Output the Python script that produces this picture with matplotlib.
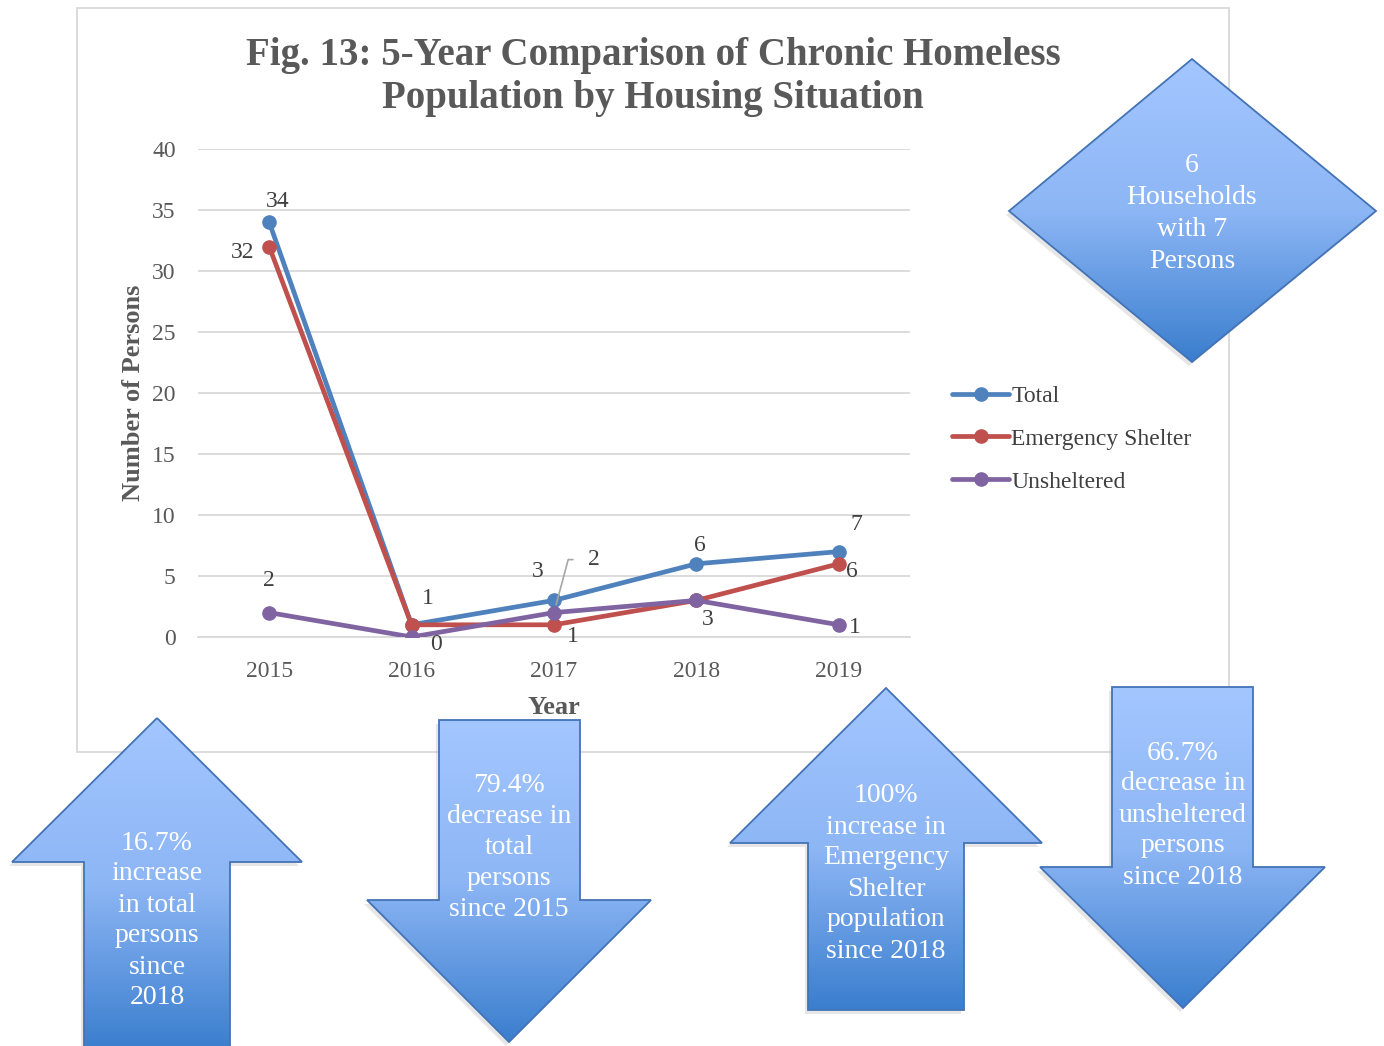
import numpy as np
import matplotlib
matplotlib.use("Agg")
import matplotlib.pyplot as plt
from matplotlib.patches import Polygon, Rectangle
from matplotlib.colors import LinearSegmentedColormap

plt.rcParams['font.family'] = ['Liberation Serif', 'DejaVu Serif']

# ---- data ----
years = ["2015", "2016", "2017", "2018", "2019"]
total = [34, 1, 3, 6, 7]
emergency = [32, 1, 1, 3, 6]
unsheltered = [2, 0, 2, 3, 1]
series_names = ["Total", "Emergency Shelter", "Unsheltered"]
yticks = [0, 5, 10, 15, 20, 25, 30, 35, 40]
title = "Fig. 13: 5-Year Comparison of Chronic Homeless\nPopulation by Housing Situation"
diamond_text = ["6", "Households", "with 7", "Persons"]
arrow_texts = [
    ["16.7%", "increase", "in total", "persons", "since", "2018"],
    ["79.4%", "decrease in", "total", "persons", "since 2015"],
    ["100%", "increase in", "Emergency", "Shelter", "population", "since 2018"],
    ["66.7%", "decrease in", "unsheltered", "persons", "since 2018"],
]

W, H = 1384, 1046
fig = plt.figure(figsize=(W / 100, H / 100), dpi=100)
fig.patch.set_facecolor("white")

def fx(px):
    return px / W

def fy(py):
    return 1 - py / H

# main axes
ax = fig.add_axes([fx(198), fy(637), fx(910) - fx(198), fy(149) - fy(637)])
x = np.arange(len(years))
cols = ["#4F81BD", "#C0504D", "#8064A2"]
for vals, c, name in zip([total, emergency, unsheltered], cols, series_names):
    ax.plot(x, vals, color=c, lw=3.4, marker="o", ms=9.5, label=name, zorder=3,
            solid_capstyle="round")
ax.set_xlim(-0.5, 4.5)
ax.set_ylim(0, 40)
ax.set_yticks(yticks)
ax.set_xticks(x)
ax.set_xticklabels(years)
ax.grid(axis="y", color="#D9D9D9", lw=1.3)
ax.set_axisbelow(True)
for s in ["top", "right", "left"]:
    ax.spines[s].set_visible(False)
ax.spines["bottom"].set_color("#D9D9D9")
ax.spines["bottom"].set_linewidth(1.3)
ax.tick_params(length=0, labelsize=17, colors="#595959")
ax.tick_params(axis="x", pad=17)
ax.tick_params(axis="y", pad=16)
ax.set_ylabel("Number of Persons", fontsize=19, fontweight="bold", color="#595959", labelpad=5)
ax.set_xlabel("Year", fontsize=19, fontweight="bold", color="#595959", labelpad=10)
ax.set_facecolor("none")

lab_kw = dict(textcoords="offset pixels", ha="center", va="center", fontsize=17, color="#404040")
# Total labels
t_off = [(8, 21), (16, 26), (-16, 29), (3, 18), (18, 27)]
for i, (v, o) in enumerate(zip(total, t_off)):
    ax.annotate(str(v), (i, v), xytext=o, **lab_kw)
# Emergency labels (2016 hidden under Total label)
e_off = {0: (-27, -6), 2: (19, -12), 3: (11, -19), 4: (13, -8)}
for i, o in e_off.items():
    ax.annotate(str(emergency[i]), (i, emergency[i]), xytext=o, **lab_kw)
# Unsheltered labels
u_off = {0: (0, 32), 1: (24, -7), 4: (16, -3)}
for i, o in u_off.items():
    ax.annotate(str(unsheltered[i]), (i, unsheltered[i]), xytext=o, **lab_kw)
ax.annotate(str(unsheltered[2]), (2, unsheltered[2]), xytext=(40, 53),
            arrowprops=dict(arrowstyle="-", color="#A6A6A6", lw=1.2,
                            connectionstyle="angle,angleA=0,angleB=75,rad=0",
                            shrinkA=9, shrinkB=6),
            **lab_kw)

leg = ax.legend(loc="upper left", bbox_to_anchor=(fx(943), fy(376)),
                bbox_transform=fig.transFigure, frameon=False, fontsize=17,
                handlelength=2.4, handletextpad=0.1, labelspacing=0.9,
                borderaxespad=0)
for t in leg.get_texts():
    t.set_color("#404040")

fig.text(fx(653), fy(77), title, ha="center", va="center", fontsize=28,
         fontweight="bold", color="#595959", linespacing=1.22)

# overlay for frame and shapes
ov = fig.add_axes([0, 0, 1, 1], zorder=5)
ov.set_xlim(0, W)
ov.set_ylim(H, 0)
ov.axis("off")
ov.patch.set_alpha(0)

ov.add_patch(Rectangle((77, 8), 1229 - 77, 752 - 8, fill=False, ec="#D9D9D9", lw=1.3, zorder=1))

cmap = LinearSegmentedColormap.from_list("g", ["#A3C6FF", "#8DB6F5", "#3A7ECE"])
grad = np.linspace(0, 1, 256).reshape(-1, 1)

def shape(pts, zorder=3):
    pts = np.array(pts, float)
    sh = Polygon(pts + np.array([-3, 4]), closed=True, fc="#9E9E9E", ec="none", alpha=0.25, zorder=zorder - 1)
    ov.add_patch(sh)
    poly = Polygon(pts, closed=True, fc="none", ec="#4373B6", lw=1.3, zorder=zorder + 1)
    ov.add_patch(poly)
    xmin, xmax = pts[:, 0].min(), pts[:, 0].max()
    ymin, ymax = pts[:, 1].min(), pts[:, 1].max()
    im = ov.imshow(grad, cmap=cmap, aspect="auto", extent=[xmin, xmax, ymax, ymin],
                   origin="upper", zorder=zorder, interpolation="bilinear")
    clip = Polygon(pts, closed=True, transform=ov.transData)
    im.set_clip_path(clip)

def up_arrow(tip, head_y, hl, hr, sl, sr, bottom):
    return [tip, (hr, head_y), (sr, head_y), (sr, bottom), (sl, bottom), (sl, head_y), (hl, head_y)]

def down_arrow(top, sl, sr, head_y, hl, hr, tip):
    return [(sl, top), (sr, top), (sr, head_y), (hr, head_y), tip, (hl, head_y), (sl, head_y)]

def lines(txts, cx, y0, dy, fs=20):
    for k, t in enumerate(txts):
        ov.text(cx, y0 + k * dy, t, ha="center", va="center", fontsize=fs, color="white", zorder=10)

# diamond
shape([(1192, 59), (1376, 211), (1192, 362), (1009, 211)])
lines(diamond_text, 1192, 166, 31.7)

shape(up_arrow((157, 718), 862, 12, 302, 84, 230, 1050))
lines(arrow_texts[0], 157, 843, 31)

shape(down_arrow(720, 439, 580, 900, 367, 651, (509, 1042)))
lines(arrow_texts[1], 509, 785, 31.2)

shape(up_arrow((886, 688), 843, 730, 1042, 808, 964, 1010))
lines(arrow_texts[2], 886, 796, 31)

shape(down_arrow(687, 1112, 1253, 867, 1040, 1325, (1183, 1008)))
lines(arrow_texts[3], 1183, 753, 31)

fig.savefig("out.png", dpi=100)
